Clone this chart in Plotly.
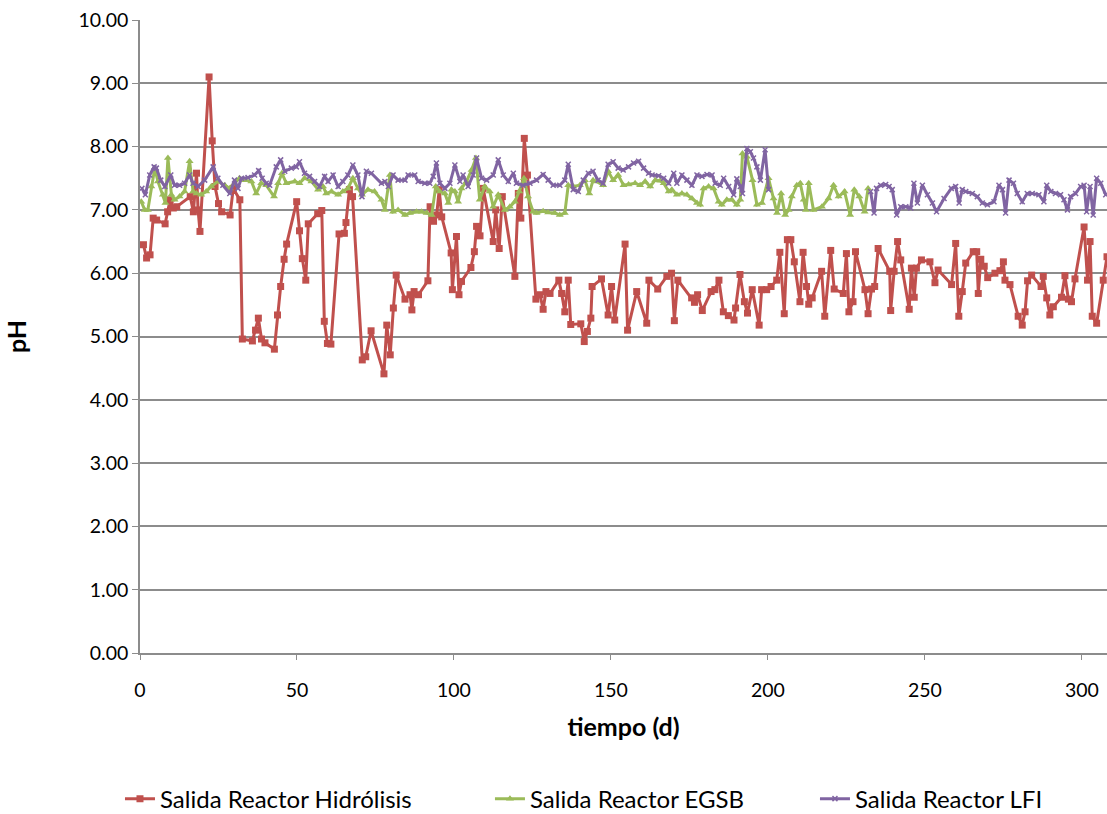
import plotly.graph_objects as go

# Salida Reactor Hidrólisis
dias_hidrolisis = [
    1.1, 2.1, 3.2, 4.2, 5.3, 8.0, 8.8, 9.6, 10.6, 11.7, 16.0, 17.0, 18.0, 18.5, 19.1,
    22.0, 23.0, 23.9, 25.0, 26.0, 28.7, 29.7, 31.8, 32.6, 35.8, 36.8, 37.7, 38.7, 39.8,
    42.8, 43.8, 44.8, 45.9, 46.7, 49.9, 50.8, 51.7, 52.8, 53.6, 56.6, 57.9, 58.7, 59.7,
    60.8, 63.4, 65.1, 65.6, 66.7, 67.7, 70.8, 71.9, 73.6, 77.7, 78.6, 79.7, 80.7, 81.6,
    84.4, 86.0, 86.6, 87.3, 88.7, 91.7, 92.4, 93.5, 94.5, 95.3, 96.1, 99.1, 99.5, 100.8,
    101.6, 102.4, 105.4, 106.5, 107.2, 108.3, 109.3, 112.5, 113.3, 114.4, 115.4, 119.4,
    120.5, 121.3, 122.4, 123.4, 126.1, 127.4, 128.4, 129.3, 130.6, 133.4, 134.3, 135.3,
    136.4, 137.2, 140.4, 141.5, 142.5, 143.6, 144.0, 147.0, 149.1, 150.2, 151.2, 154.5,
    155.3, 158.2, 161.4, 162.1, 164.9, 167.8, 169.3, 170.2, 171.3, 175.7, 176.6, 177.6,
    179.1, 181.9, 183.1, 184.4, 185.8, 187.4, 189.2, 189.7, 191.1, 192.5, 193.5, 195.0,
    197.2, 198.0, 199.6, 201.0, 202.8, 203.8, 205.2, 206.2, 207.3, 208.4, 210.2, 211.2,
    212.3, 213.0, 214.1, 217.1, 218.1, 220.0, 221.1, 224.0, 225.0, 225.8, 227.1, 227.9,
    230.9, 231.9, 233.0, 234.0, 235.1, 238.8, 239.1, 240.2, 241.3, 242.3, 245.0, 245.7,
    246.6, 247.3, 248.9, 251.6, 253.2, 254.2, 258.5, 259.8, 260.8, 261.9, 263.0, 265.4,
    266.5, 267.0, 267.8, 268.9, 270.0, 272.3, 273.9, 275.0, 275.5, 277.1, 279.7, 281.0,
    281.9, 282.7, 284.0, 287.0, 287.7, 288.8, 289.8, 290.9, 293.5, 294.6, 295.7, 296.7,
    297.8, 300.7, 301.8, 302.6, 303.3, 304.7, 306.8, 308.0,
]
ph_hidrolisis = [
    6.45, 6.24, 6.29, 6.87, 6.84, 6.78, 6.97, 7.16, 7.03, 7.05, 7.21, 6.97, 7.58, 7.00, 6.66,
    9.10, 8.09, 7.37, 7.10, 6.97, 6.92, 7.34, 7.16, 4.96, 4.93, 5.10, 5.29, 4.96, 4.90,
    4.80, 5.34, 5.79, 6.22, 6.46, 7.13, 6.67, 6.23, 5.89, 6.78, 6.94, 6.99, 5.24, 4.89,
    4.88, 6.62, 6.63, 6.80, 7.32, 7.21, 4.63, 4.68, 5.09, 4.41, 5.18, 4.71, 5.45, 5.97,
    5.59, 5.66, 5.42, 5.71, 5.66, 5.88, 7.05, 6.82, 6.92, 7.32, 6.89, 6.32, 5.74, 6.58,
    5.66, 5.87, 6.09, 6.34, 6.74, 6.59, 7.34, 6.50, 7.00, 6.39, 7.21, 5.95,
    7.26, 6.87, 8.13, 7.55, 5.59, 5.66, 5.43, 5.71, 5.68, 5.89, 5.68, 5.39,
    5.89, 5.19, 5.20, 4.92, 5.08, 5.29, 5.79, 5.91, 5.34, 5.79, 5.26, 6.46,
    5.10, 5.71, 5.21, 5.89, 5.75, 5.95, 6.00, 5.25, 5.89, 5.61, 5.54, 5.66,
    5.41, 5.71, 5.74, 5.89, 5.39, 5.33, 5.26, 5.45, 5.98, 5.55, 5.37, 5.74,
    5.18, 5.74, 5.74, 5.79, 5.89, 6.33, 5.36, 6.53, 6.53, 6.18, 5.55, 6.33,
    5.79, 5.51, 5.61, 6.03, 5.32, 6.36, 5.75, 5.68, 6.31, 5.39, 5.55, 6.34,
    5.74, 5.36, 5.75, 5.79, 6.39, 6.03, 5.41, 6.03, 6.50, 6.21, 5.43, 6.08,
    5.62, 6.08, 6.21, 6.18, 5.85, 6.05, 5.82, 6.47, 5.32, 5.71, 6.16, 6.34,
    6.34, 5.68, 6.22, 6.11, 5.93, 6.00, 6.04, 6.18, 5.89, 5.82, 5.32, 5.18,
    5.39, 5.88, 5.97, 5.79, 5.95, 5.61, 5.34, 5.47, 5.62, 5.96, 5.59, 5.55,
    5.91, 6.73, 5.89, 6.50, 5.32, 5.21, 5.89, 6.26,
]

# Salida Reactor EGSB
dias_egsb = [
    0.4, 1.5, 2.5, 3.6, 4.7, 5.7, 7.3, 8.1, 8.9, 10.0, 11.0, 12.6, 14.2, 15.8, 16.9,
    18.0, 19.5, 21.1, 22.7, 24.8, 27.0, 28.6, 30.1, 31.7, 33.3, 35.5, 37.0, 38.6, 40.2,
    42.7, 44.0, 45.2, 46.6, 49.3, 50.8, 52.4, 54.6, 56.7, 58.3, 59.3, 61.0, 63.1, 64.6,
    66.2, 67.8, 69.4, 70.7, 72.6, 74.7, 76.9, 78.0, 79.6, 80.6, 82.2, 84.4, 86.0, 88.1,
    89.7, 91.3, 92.9, 94.2, 95.5, 97.1, 98.2, 99.2, 100.3, 101.3, 102.4, 104.0, 105.6,
    107.0, 108.2, 109.8, 111.4, 112.5, 114.1, 116.2, 117.8, 119.4, 120.8, 122.3, 123.6,
    125.2, 126.3, 128.4, 130.0, 132.1, 133.7, 135.3, 136.4, 138.0, 140.1, 141.7, 143.1,
    144.3, 145.4, 147.5, 149.1, 150.7, 152.3, 154.0, 155.6, 157.7, 159.3, 160.9, 162.5,
    164.1, 165.7, 166.8, 168.4, 169.4, 171.0, 172.6, 174.2, 175.8, 177.4, 178.4, 179.5,
    181.1, 182.7, 184.3, 185.3, 186.9, 188.5, 190.1, 191.2, 191.9, 193.3, 195.1, 196.5,
    198.1, 200.2, 201.8, 202.9, 204.2, 205.5, 206.6, 207.6, 209.2, 210.3, 211.4, 212.1,
    213.0, 214.5, 217.2, 219.3, 220.9, 222.5, 224.4, 226.2, 227.5, 229.1, 230.8, 231.9,
]
ph_egsb = [
    7.13, 7.00, 7.00, 7.37, 7.66, 7.45, 7.24, 7.11, 7.82, 7.24, 7.16, 7.21, 7.29, 7.77, 7.29,
    7.26, 7.24, 7.29, 7.37, 7.45, 7.39, 7.34, 7.42, 7.50, 7.47, 7.45, 7.26, 7.42, 7.39,
    7.21, 7.42, 7.58, 7.42, 7.45, 7.42, 7.50, 7.45, 7.32, 7.37, 7.26, 7.29, 7.24, 7.29,
    7.34, 7.50, 7.34, 7.24, 7.32, 7.29, 7.16, 7.00, 7.55, 6.97, 7.00, 6.92, 6.95, 6.97,
    6.97, 6.95, 6.92, 7.37, 7.29, 7.26, 7.11, 7.32, 7.29, 7.13, 7.34, 7.45, 7.63,
    7.82, 7.16, 7.37, 7.29, 7.05, 7.24, 7.00, 7.05, 7.13, 7.29, 7.50, 7.21,
    6.97, 6.95, 6.98, 6.96, 6.95, 6.92, 6.95, 7.39, 7.37, 7.39, 7.47, 7.26,
    7.47, 7.45, 7.39, 7.61, 7.47, 7.55, 7.39, 7.40, 7.42, 7.39, 7.45, 7.37,
    7.47, 7.46, 7.42, 7.29, 7.32, 7.24, 7.26, 7.24, 7.18, 7.11, 7.08, 7.34,
    7.37, 7.34, 7.13, 7.08, 7.16, 7.16, 7.08, 7.16, 7.89, 7.84, 7.47, 7.08,
    7.11, 7.50, 7.18, 6.95, 7.26, 6.92, 7.00, 7.21, 7.39, 7.42, 7.16, 7.00,
    7.42, 7.00, 7.05, 7.18, 7.39, 7.21, 7.29, 6.92, 7.32, 7.21, 6.97, 7.34,
]

# Salida Reactor LFI (None = sin medición entre los días 200 y 232)
dias_lfi = [
    0.6, 1.7, 3.1, 4.5, 5.2, 6.6, 7.9, 9.8, 11.0, 12.6, 14.2, 15.8, 16.9, 18.5, 20.6,
    23.3, 24.8, 26.4, 28.6, 30.1, 31.2, 32.3, 34.4, 36.5, 37.8, 38.9, 40.2, 41.3, 43.4,
    44.8, 46.1, 48.2, 49.8, 50.8, 52.4, 54.0, 55.6, 57.2, 58.8, 59.9, 61.5, 63.1, 64.6,
    66.2, 67.8, 69.4, 70.7, 72.1, 73.7, 76.9, 78.0, 79.1, 80.6, 82.2, 84.4, 85.4, 87.5,
    88.6, 90.7, 92.3, 93.4, 94.4, 95.5, 97.1, 98.7, 100.3, 101.9, 102.9, 104.5, 106.1,
    107.2, 108.8, 110.4, 112.5, 114.1, 115.7, 117.3, 118.9, 119.9, 122.0, 124.2, 126.3,
    128.4, 130.0, 131.6, 133.7, 135.3, 136.4, 138.0, 139.6, 141.2, 142.8, 144.3, 145.9,
    147.5, 149.1, 150.7, 152.3, 153.9, 155.6, 157.2, 158.8, 160.4, 162.0, 163.1, 165.2,
    166.8, 168.4, 170.0, 171.0, 172.6, 174.2, 175.8, 177.4, 179.0, 180.6, 182.2, 183.2,
    184.8, 185.9, 187.5, 189.1, 190.1, 191.2, 191.9, 193.3, 194.4, 195.4, 196.5, 197.6,
    199.1, 200.2, 216.0, 232.7, 233.8, 234.6, 235.9, 237.5, 238.6, 239.6, 241.0, 242.3,
    243.9, 245.5, 246.5, 247.6, 249.2, 250.8, 252.4, 253.7, 256.1, 258.4, 259.8, 260.9,
    261.9, 263.0, 265.1, 266.7, 268.3, 269.9, 272.0, 273.6, 274.7, 275.7, 276.8, 278.2,
    279.4, 281.0, 282.6, 284.2, 286.3, 287.9, 288.8, 290.1, 291.6, 293.2, 294.3, 295.4,
    296.4, 298.0, 299.6, 300.7, 301.5, 302.6, 303.6, 304.7, 306.0, 307.6,
]
ph_lfi = [
    7.34, 7.24, 7.55, 7.68, 7.66, 7.47, 7.37, 7.55, 7.39, 7.39, 7.42, 7.55, 7.42, 7.37, 7.47,
    7.68, 7.50, 7.39, 7.26, 7.47, 7.34, 7.50, 7.51, 7.55, 7.62, 7.50, 7.42, 7.39, 7.68,
    7.79, 7.61, 7.66, 7.68, 7.76, 7.58, 7.53, 7.45, 7.37, 7.53, 7.45, 7.55, 7.37, 7.45,
    7.55, 7.71, 7.55, 7.21, 7.61, 7.58, 7.42, 7.45, 7.37, 7.55, 7.47, 7.47, 7.55, 7.55,
    7.45, 7.42, 7.42, 7.53, 7.74, 7.42, 7.34, 7.42, 7.71, 7.45, 7.55, 7.37, 7.55,
    7.82, 7.50, 7.47, 7.55, 7.79, 7.55, 7.45, 7.58, 7.42, 7.39, 7.42, 7.47,
    7.56, 7.47, 7.39, 7.39, 7.47, 7.72, 7.32, 7.29, 7.47, 7.58, 7.61, 7.47,
    7.42, 7.72, 7.76, 7.66, 7.63, 7.68, 7.74, 7.77, 7.66, 7.58, 7.55, 7.54,
    7.50, 7.42, 7.58, 7.42, 7.55, 7.47, 7.39, 7.55, 7.53, 7.56, 7.55, 7.42,
    7.39, 7.50, 7.37, 7.24, 7.49, 7.37, 7.26, 7.97, 7.92, 7.82, 7.68, 7.47,
    7.95, 7.32, None, 7.29, 6.95, 7.34, 7.39, 7.40, 7.37, 7.32, 6.92, 7.05,
    7.05, 7.03, 7.42, 7.11, 7.39, 7.24, 7.11, 6.97, 7.18, 7.34, 7.37, 7.11,
    7.32, 7.29, 7.26, 7.21, 7.11, 7.08, 7.13, 7.39, 7.32, 6.95, 7.47, 7.42,
    7.26, 7.13, 7.26, 7.26, 7.24, 7.13, 7.39, 7.29, 7.26, 7.24, 7.16, 7.00,
    7.21, 7.26, 7.37, 7.39, 6.97, 7.37, 6.92, 7.50, 7.42, 7.24,
]

y_ticks = [0, 1, 2, 3, 4, 5, 6, 7, 8, 9, 10]
x_ticks = [0, 50, 100, 150, 200, 250, 300]

FONT = "Lato, Calibri, Carlito, sans-serif"
GRID = "#8c8c8c"
TICK_SIZE = 19.5
TITLE_SIZE = 25
LEGEND_SIZE = 24

fig = go.Figure()

fig.add_trace(go.Scatter(
    x=dias_hidrolisis, y=ph_hidrolisis, mode="lines+markers",
    name="Salida Reactor Hidrólisis", legend="legend",
    line=dict(color="#C0504D", width=3),
    marker=dict(symbol="square", size=7, color="#C0504D"),
))
fig.add_trace(go.Scatter(
    x=dias_egsb, y=ph_egsb, mode="lines+markers",
    name="Salida Reactor EGSB", legend="legend2",
    line=dict(color="#9BBB59", width=3),
    marker=dict(symbol="triangle-up", size=7, color="#9BBB59"),
))
fig.add_trace(go.Scatter(
    x=dias_lfi, y=ph_lfi, mode="lines+markers",
    name="Salida Reactor LFI", legend="legend3", connectgaps=False,
    line=dict(color="#8064A2", width=3),
    marker=dict(symbol="x-thin", size=5, color="#8064A2",
                line=dict(color="#8064A2", width=1.5)),
))

# three single-entry legends laid out in one row below the x-axis title
legend_common = dict(
    orientation="h", y=-0.2307, yanchor="middle", xanchor="left",
    font=dict(family=FONT, size=LEGEND_SIZE, color="black"),
    bgcolor="rgba(0,0,0,0)", borderwidth=0,
)

fig.update_layout(
    width=1107, height=814,
    margin=dict(l=140, r=0, t=20, b=161, autoexpand=False),
    paper_bgcolor="white", plot_bgcolor="white",
    font=dict(family=FONT, size=TICK_SIZE, color="black"),
    showlegend=True,
    legend=dict(x=-0.0207, **legend_common),
    legend2=dict(x=0.3619, **legend_common),
    legend3=dict(x=0.698, **legend_common),
    xaxis=dict(
        range=[0, 308], tickvals=x_ticks, ticktext=[str(v) for v in x_ticks],
        showgrid=False, zeroline=False,
        showline=True, linecolor=GRID, linewidth=1.5,
        ticks="outside", ticklen=5, tickcolor=GRID, ticklabelstandoff=14,
        tickfont=dict(family=FONT, size=TICK_SIZE),
        title=dict(text="<b>tiempo (d)</b>", font=dict(family=FONT, size=TITLE_SIZE), standoff=18),
    ),
    yaxis=dict(
        range=[0, 10], tickvals=y_ticks, ticktext=[f"{v:.2f}" for v in y_ticks],
        showgrid=True, gridcolor=GRID, gridwidth=1.5, zeroline=False,
        showline=True, linecolor=GRID, linewidth=1.5,
        ticks="outside", ticklen=6, tickcolor=GRID,
        tickfont=dict(family=FONT, size=TICK_SIZE),
        title=dict(text="<b>pH</b>", font=dict(family=FONT, size=TITLE_SIZE), standoff=45),
    ),
)

fig.write_html("out.html")
